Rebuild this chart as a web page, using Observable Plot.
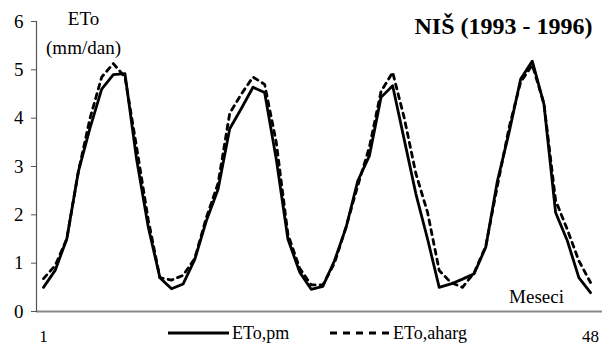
<!DOCTYPE html>
<html><head><meta charset="utf-8">
<script src="https://cdn.jsdelivr.net/npm/d3@7"></script>
<script src="https://cdn.jsdelivr.net/npm/@observablehq/plot@0.6"></script>
<style>
body{margin:0;background:#fff;}
#wrap{position:relative;width:602px;height:346px;font-family:"Liberation Serif",serif;color:#000;}
#wrap svg{display:block;}
#wrap svg text, #wrap svg g{font-family:"Liberation Serif",serif !important;font-variant:normal !important;font-variant-numeric:normal !important;}
.lg{position:absolute;top:321px;height:24px;display:flex;align-items:center;font-size:18px;}
</style></head><body><div id="wrap"></div>
<script>
const months = d3.range(1, 49);
const etoPm = [0.50,0.85,1.50,2.90,3.80,4.60,4.90,4.92,3.15,1.75,0.70,0.47,
               0.57,1.08,1.88,2.53,3.78,4.20,4.64,4.53,3.15,1.50,0.82,0.46,
               0.52,1.05,1.74,2.70,3.22,4.43,4.67,3.55,2.43,1.50,0.50,0.57,
               0.67,0.78,1.33,2.70,3.70,4.81,5.18,4.29,2.05,1.47,0.70,0.39];
const etoAharg = [0.68,0.95,1.50,2.90,4.00,4.85,5.13,4.85,3.40,1.90,0.70,0.65,
                  0.75,1.10,1.95,2.65,4.10,4.50,4.85,4.70,3.50,1.60,0.90,0.55,
                  0.55,1.00,1.75,2.60,3.40,4.55,4.95,4.00,2.85,2.05,0.85,0.60,
                  0.50,0.80,1.35,2.60,3.80,4.75,5.10,4.30,2.30,1.70,1.05,0.60];
const xTicks = [1, 48];
const yTicks = [0, 1, 2, 3, 4, 5, 6];
const seriesNames = ["ETo,pm", "ETo,aharg"];
const titleText = "NIŠ (1993 - 1996)";
const serif = "Liberation Serif";

const chart = Plot.plot({
  width: 602, height: 346,
  marginLeft: 36, marginRight: 0, marginTop: 21, marginBottom: 35,
  style: {fontFamily: serif, background: "#fff", color: "#000", overflow: "visible"},
  x: {domain: [1, 48], range: [43, 590]},
  y: {domain: [0, 6]},
  marks: [
    Plot.ruleY([0], {stroke: "#888", strokeWidth: 2}),
    Plot.frame({anchor: "left", stroke: "#555", strokeWidth: 1.2}),
    Plot.axisY(yTicks, {tickSize: 5, tickPadding: 8, fontSize: 19, fontFamily: serif, fontVariant: "normal", label: null, stroke: "#555"}),
    Plot.axisX(xTicks, {tickSize: 0, tickPadding: 18, fontSize: 17, fontFamily: serif, fontVariant: "normal", label: null}),
    Plot.line(etoAharg, {x: months, y: etoAharg, stroke: "#000", strokeWidth: 2.8, strokeDasharray: "5,5"}),
    Plot.line(etoPm, {x: months, y: etoPm, stroke: "#000", strokeWidth: 2.8}),
    Plot.text([titleText], {frameAnchor: "top-right", dx: -10, dy: 5, lineAnchor: "middle", textAnchor: "end", fontSize: 24, fontWeight: "bold", fontFamily: serif}),
    Plot.text(["ETo"], {frameAnchor: "top-left", dx: 47, dy: -3, lineAnchor: "middle", textAnchor: "middle", fontSize: 19, fontFamily: serif}),
    Plot.text(["(mm/dan)"], {frameAnchor: "top-left", dx: 47, dy: 26, lineAnchor: "middle", textAnchor: "middle", fontSize: 19, fontFamily: serif}),
    Plot.text(["Meseci"], {frameAnchor: "bottom-right", dx: -66, dy: -15, lineAnchor: "middle", textAnchor: "middle", fontSize: 19, fontFamily: serif, style: "letter-spacing:1.8px"})
  ]
});
const wrap = document.getElementById("wrap");
wrap.appendChild(chart);

const lg1 = document.createElement("div");
lg1.className = "lg"; lg1.style.left = "168px";
lg1.innerHTML = `<svg width="61" height="6"><line x1="0" x2="61" y1="3" y2="3" stroke="#000" stroke-width="2.8"/></svg><span style="margin-left:3px">${seriesNames[0]}</span>`;
const lg2 = document.createElement("div");
lg2.className = "lg"; lg2.style.left = "330px";
lg2.innerHTML = `<svg width="60" height="6"><line x1="0" x2="60" y1="3" y2="3" stroke="#000" stroke-width="2.8" stroke-dasharray="7,6"/></svg><span style="margin-left:3px">${seriesNames[1]}</span>`;
wrap.appendChild(lg1);
wrap.appendChild(lg2);
</script></body></html>
